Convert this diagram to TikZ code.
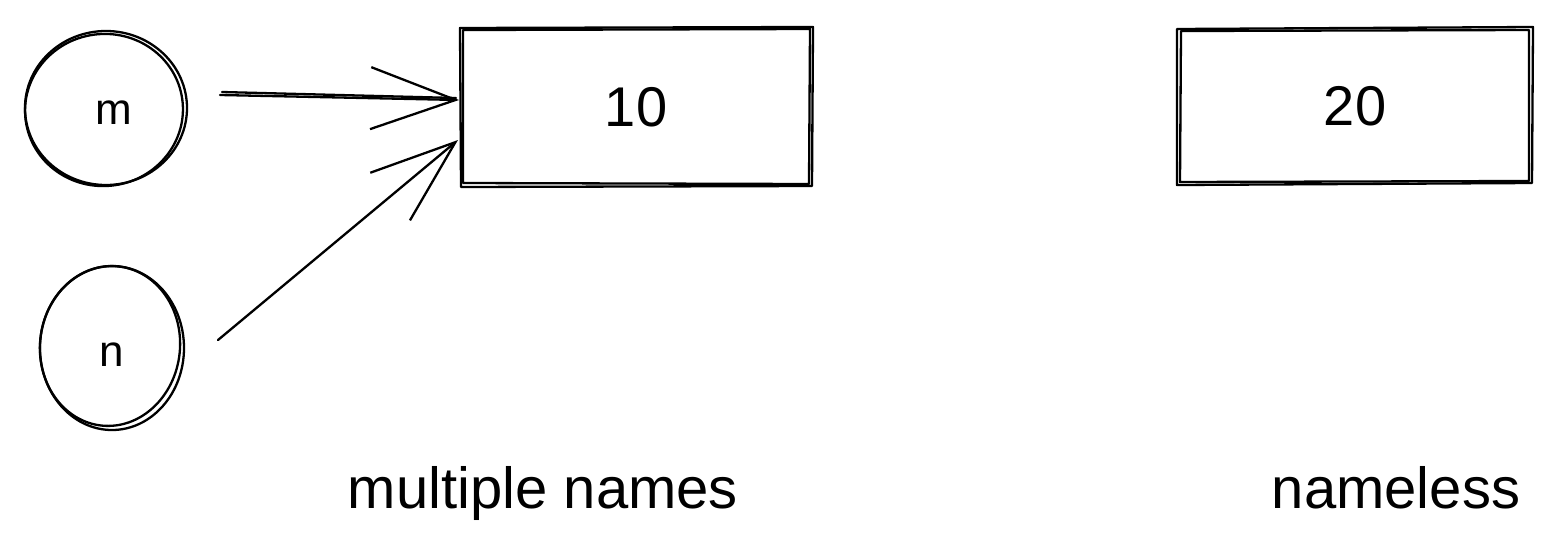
\documentclass[tikz,border=0pt]{standalone}
\usepackage{fontspec}
\setmainfont{Liberation Sans}
\usetikzlibrary{arrows.meta}
\begin{document}
\begin{tikzpicture}[x=1pt,y=-1pt,
  sk/.style={line width=2.3pt,black,line cap=round,line join=round},
  lbl/.style={font=\fontsize{56}{60}\selectfont},
  caption/.style={font=\fontsize{58}{62}\selectfont,anchor=base},
  small/.style={font=\fontsize{44}{48}\selectfont},
  arr/.style={sk,-{Straight Barb[length=85pt,width=62pt,line width=2.3pt]}}]
\useasboundingbox (0,0) rectangle (1563,555);
% circles
\node[small,inner sep=0,minimum width=163pt,minimum height=155pt] (m) at (106,108) {};
\node[small,anchor=base] (mt) at (114,124) {m};
\draw[sk] (106,108) ellipse [x radius=81, y radius=77];
\draw[sk] (104,110) ellipse [x radius=79, y radius=76, rotate=8];
\node[small,inner sep=0,minimum width=145pt,minimum height=165pt] (n) at (112,348) {};
\node[small,anchor=base] (nt) at (112,366) {n};
\draw[sk] (112,348) ellipse [x radius=72, y radius=82];
\draw[sk] (110,346) ellipse [x radius=70, y radius=80, rotate=-6];
% boxes
\node[lbl,inner sep=0,minimum width=353pt,minimum height=158pt] (b1) at (636,107) {10};
\draw[sk] (460,28) -- (813,27) -- (812,186) -- (461,187) -- cycle;
\draw[sk] (463,30) -- (810,29) -- (809,184) -- (463,183) -- cycle;
\node[lbl,inner sep=0,minimum width=356pt,minimum height=157pt] (b2) at (1355,106) {20};
\draw[sk] (1177,29) -- (1533,27) -- (1532,183) -- (1177,185) -- cycle;
\draw[sk] (1181,31) -- (1529,30) -- (1529,181) -- (1180,182) -- cycle;
% connectors
\coordinate (a1s) at (220,95);
\coordinate (a1e) at (459,100);
\coordinate (a2s) at (218,340);
\coordinate (a2e) at (458,140);
\draw[arr] (a1s) -- (a1e);
\draw[sk] (222,92) -- (456,98);
\draw[arr] (a2s) -- (a2e);
% captions
\node[caption] (c1) at (543,508) {multiple names};
\node[caption] (c2) at (1396,508) {nameless};
\end{tikzpicture}
\end{document}
